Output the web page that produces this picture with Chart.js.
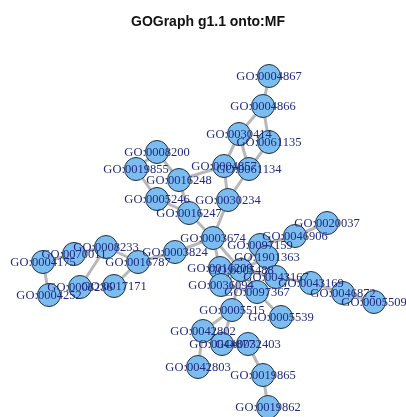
<!DOCTYPE html>
<html>
<head>
<meta charset="utf-8">
<script src="https://cdn.jsdelivr.net/npm/chart.js@4.4.1/dist/chart.umd.min.js"></script>
<style>
  html, body { margin: 0; padding: 0; background: #ffffff; }
  #wrap { width: 406px; height: 417px; position: relative; }
</style>
</head>
<body>
<div id="wrap"><canvas id="c"></canvas></div>
<script>
// GO molecular-function terms and their layout positions
const termIds = [
  'GO:0004867','GO:0004866','GO:0030414','GO:0061135','GO:0004857','GO:0061134','GO:0030234',
  'GO:0008200','GO:0019855','GO:0016248','GO:0005246','GO:0016247','GO:0003674','GO:0003824',
  'GO:0016787','GO:0008233','GO:0070011','GO:0004175','GO:0004252','GO:0008236','GO:0017171',
  'GO:0097159','GO:0046906','GO:0020037','GO:1901363','GO:0005488','GO:0016209','GO:0036094',
  'GO:0043167','GO:0097367','GO:0043169','GO:0046872','GO:0005509','GO:0005515','GO:0005539',
  'GO:0042802','GO:0044877','GO:0032403','GO:0042803','GO:0019865','GO:0019862'
];
const layoutX = [
  269, 263, 239, 269, 224, 249, 228,
  157, 136, 179, 157, 189, 213, 175,
  138, 106, 74, 43, 49, 80, 114,
  260, 295, 327, 267, 241, 220, 221,
  276, 257, 311, 343, 374, 232, 281,
  203, 222, 248, 198, 263, 268
];
const layoutY = [
  76, 106, 134, 142, 166, 169, 200,
  152, 169, 180, 199, 213, 238, 252,
  262, 247, 254, 262, 295, 287, 286,
  245, 236, 223, 257, 270, 268, 285,
  277, 292, 283, 293, 302, 310, 317,
  331, 344, 344, 367, 375, 407
];
// parent/child links between terms
const edgeFrom = [
  'GO:0004867','GO:0004866','GO:0004866','GO:0030414','GO:0030414','GO:0061135','GO:0004857','GO:0061134','GO:0030234',
  'GO:0019855','GO:0019855','GO:0008200','GO:0016248','GO:0005246','GO:0016247','GO:0016248',
  'GO:0003824','GO:0016787','GO:0008233','GO:0070011','GO:0004175','GO:0004252','GO:0008236','GO:0017171',
  'GO:0005488','GO:0016209','GO:0097159','GO:1901363','GO:0046906','GO:0020037',
  'GO:0036094','GO:0043167','GO:0097367','GO:0043169','GO:0046872','GO:0005509',
  'GO:0005515','GO:0005539','GO:0042802','GO:0042803','GO:0044877','GO:0032403','GO:0019865','GO:0019862','GO:0005488','GO:0005488'
];
const edgeTo = [
  'GO:0004866','GO:0030414','GO:0061135','GO:0004857','GO:0061134','GO:0061134','GO:0030234','GO:0030234','GO:0003674',
  'GO:0008200','GO:0005246','GO:0016248','GO:0016247','GO:0016247','GO:0003674','GO:0004857',
  'GO:0003674','GO:0003824','GO:0016787','GO:0008233','GO:0070011','GO:0004175','GO:0008233','GO:0016787',
  'GO:0003674','GO:0003674','GO:0005488','GO:0005488','GO:0097159','GO:0046906',
  'GO:0005488','GO:0005488','GO:0036094','GO:0043167','GO:0043169','GO:0046872',
  'GO:0005488','GO:0097367','GO:0005515','GO:0042802','GO:0005515','GO:0044877','GO:0032403','GO:0019865','GO:0097367','GO:1901363'
];
const titleText = 'GOGraph g1.1 onto:MF';

const idx = {};
termIds.forEach((t, i) => { idx[t] = i; });
const nodePoints = termIds.map((t, i) => ({ x: layoutX[i], y: layoutY[i], label: t }));

const edgeSets = edgeFrom.map((a, k) => {
  const i = idx[a], j = idx[edgeTo[k]];
  return {
    type: 'line',
    data: [{ x: layoutX[i], y: layoutY[i] }, { x: layoutX[j], y: layoutY[j] }],
    borderColor: '#b8b8b8',
    borderWidth: 3,
    pointRadius: 0,
    pointHoverRadius: 0,
    fill: false,
    tension: 0,
    order: 2
  };
});

const nodeSet = {
  type: 'scatter',
  data: nodePoints,
  pointRadius: 11.5,
  pointHoverRadius: 11.5,
  backgroundColor: '#7cbdf0',
  borderColor: '#20303f',
  borderWidth: 1,
  order: 1
};

// term labels centred on each vertex, plus the heading
const labelPlugin = {
  id: 'termLabels',
  afterDatasetsDraw(chart) {
    const ctx = chart.ctx;
    const xs = chart.scales.x, ys = chart.scales.y;
    ctx.save();
    ctx.font = '12.5px "Liberation Serif", "Times New Roman", serif';
    ctx.fillStyle = '#1f2a80';
    ctx.textAlign = 'center';
    ctx.textBaseline = 'middle';
    nodePoints.forEach(p => {
      ctx.fillText(p.label, xs.getPixelForValue(p.x), ys.getPixelForValue(p.y) + 1);
    });
    ctx.font = 'bold 14px "Liberation Sans", Arial, sans-serif';
    ctx.fillStyle = '#111111';
    ctx.fillText(titleText, chart.width / 2 + 5, 22);
    ctx.restore();
  }
};

new Chart(document.getElementById('c'), {
  data: { datasets: [nodeSet].concat(edgeSets) },
  options: {
    responsive: true,
    maintainAspectRatio: false,
    animation: false,
    events: [],
    layout: { padding: 0, autoPadding: false },
    plugins: { legend: { display: false }, tooltip: { enabled: false }, title: { display: false } },
    scales: {
      x: { type: 'linear', min: 0, max: 406, display: false },
      y: { type: 'linear', min: 0, max: 417, reverse: true, display: false }
    }
  },
  plugins: [labelPlugin]
});
</script>
</body>
</html>
